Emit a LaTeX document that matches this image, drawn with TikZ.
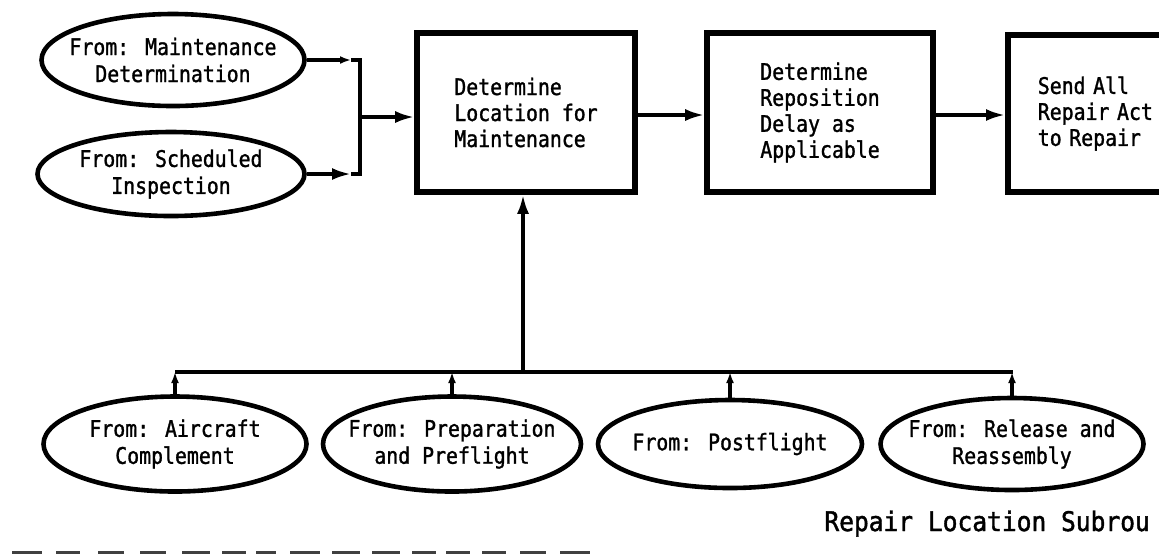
\documentclass[tikz,border=0pt]{standalone}
\usepackage{fontspec}
\usetikzlibrary{shapes.geometric,arrows.meta}
\newfontfamily\printfont[FakeStretch=0.87,FakeBold=1.3]{DejaVu Sans Mono}
\newfontfamily\titlefont[FakeStretch=0.91,FakeBold=1.6]{DejaVu Sans Mono}

\begin{document}
\begin{tikzpicture}[x=0.5pt,y=-0.5pt,
  txt/.style={font={\printfont\fontsize{11.4pt}{13pt}\selectfont}},
  stepbox/.style={draw,line width=2.8pt,rectangle,inner sep=0pt,
    minimum height=79.5pt,align=left,txt},
  oval/.style={draw,line width=2.3pt,ellipse,inner sep=0pt},
  ovaltext/.style={align=center,inner sep=0pt,
    font={\printfont\fontsize{11.4pt}{13.5pt}\selectfont}},
  wire/.style={line width=1.7pt},
  bigtip/.style={-{Latex[length=9.5pt,width=6pt]}},
  smalltip/.style={-{Latex[length=5.5pt,width=4pt]}},
]
% page area
\fill[white] (0,0) rectangle (1159,554);
\useasboundingbox (0,0) rectangle (1159,554);

% source ovals feeding the first step
\node[oval,minimum width=131.5pt,minimum height=46pt] (e1) at (173,60) {};
\node[ovaltext] (e1t) at (e1) {From: Maintenance\\Determination};
\node[oval,minimum width=133.5pt,minimum height=42pt] (e2) at (171,174) {};
\node[ovaltext] (e2t) at (e2) {From: Scheduled\\Inspection};

% process steps
\node[stepbox,minimum width=109pt] (b1) at (526,112.5)
  {Determine\\Location for\\Maintenance};
\node[stepbox,minimum width=113pt] (b2) at (820,112.5)
  {Determine\\Reposition\\Delay as\\Applicable};
\node[stepbox,anchor=west,minimum width=100pt,minimum height=78.5pt,
  text width=70pt,inner xsep=15pt] (b3) at (1005,113.5)
  {Send All\\Repair Act\\to Repair};

% lower source ovals
\node[oval,minimum width=131.5pt,minimum height=47.5pt] (e3) at (175,444) {};
\node[ovaltext] (e3t) at (e3) {From: Aircraft\\Complement};
\node[oval,minimum width=129pt,minimum height=47.5pt] (e4) at (452,444) {};
\node[ovaltext] (e4t) at (e4) {From: Preparation\\and Preflight};
\node[oval,minimum width=132pt,minimum height=44pt] (e5) at (730,444) {};
\node[ovaltext] (e5t) at (e5) {From: Postflight};
\node[oval,minimum width=131.5pt,minimum height=46pt] (e6) at (1012,444) {};
\node[ovaltext] (e6t) at (e6) {From: Release and\\Reassembly};

% junction points
\coordinate (t1) at (351,60);
\coordinate (j1) at (360,60);
\coordinate (t2) at (351,174);
\coordinate (j2) at (360,174);
\coordinate (jm) at (360,117);
\coordinate (busL) at (175,372);
\coordinate (busR) at (1013,372);
\coordinate (busM) at (523,372);

% upper merge into the first step
\draw[wire,smalltip] (e1.east |- t1) -- (t1);
\draw[wire,bigtip] (e2.east |- t2) -- (t2);
\draw[wire] (t1) -- (j1) -- (j2) -- (t2);
\draw[wire,bigtip] (jm) -- (jm -| b1.west);

% chain of steps
\draw[wire,bigtip] (b1.east |- 0,115) -- (b2.west |- 0,115);
\draw[wire,bigtip] (b2.east |- 0,115) -- (b3.west |- 0,115);

% lower bus into the first step
\draw[wire] (busL) -- (busR);
\draw[wire,bigtip] (busM) -- (busM |- b1.south);
\draw[wire,smalltip] (e3.north) -- (e3.north |- busL);
\draw[wire,smalltip] (e4.north) -- (e4.north |- busL);
\draw[wire,smalltip] (e5.north) -- (e5.north |- busL);
\draw[wire,smalltip] (e6.north) -- (e6.north |- busL);

% caption
\node[anchor=base west,inner sep=0pt,
  font={\titlefont\fontsize{13.5pt}{15pt}\selectfont}] (cap) at (824,531)
  {Repair Location Subrou};

% tops of the next printed line along the lower edge
\foreach \a/\b in {12/42,56/80,98/124,140/166,182/210,222/246,256/276,
  290/320,332/360,372/400,412/436,446/470,482/506,520/546,560/590}
  \fill[black!75] (\a,551) rectangle (\b,554);
\end{tikzpicture}
\end{document}
